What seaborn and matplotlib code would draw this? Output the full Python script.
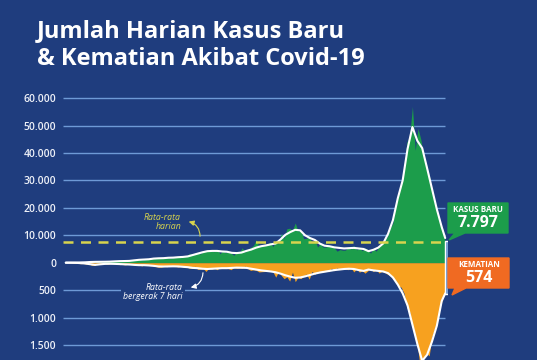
import numpy as np
import pandas as pd
import matplotlib
matplotlib.use("Agg")
import matplotlib.pyplot as plt
import seaborn as sns
from matplotlib.patches import Polygon

# ---------------- data ----------------
daily_dates = list(pd.date_range("2020-03-02", periods=137, freq="4D")) + [pd.Timestamp("2021-08-31")]
daily_cases = [
    2, 2, 8, 27, 55, 64, 103, 129, 196, 247,
    330, 297, 327, 357, 214, 433, 484, 533, 689, 489,
    973, 526, 678, 609, 993, 1241, 857, 1331, 954, 1178,
    1293, 1447, 1853, 1681, 1574, 1693, 1761, 1748, 1560, 1815,
    1893, 2098, 1821, 2197, 2447, 3308, 3075, 3444, 3861, 3141,
    4105, 4071, 4494, 4284, 3992, 4850, 3267, 4301, 3602, 4070,
    3520, 2696, 4065, 3779, 5444, 3807, 4998, 5534, 6267, 8369,
    5754, 6310, 6120, 6725, 7514, 5854, 8074, 6753, 10617, 8882,
    12400, 12568, 11788, 14500, 11500, 11749, 8776, 8869, 9687, 7300,
    8493, 5712, 6971, 5633, 5733, 6037, 5656, 5376, 4194, 4761,
    4549, 4591, 5656, 4952, 6243, 4656, 5444, 4369, 5444, 4608,
    3500, 5200, 4200, 5800, 6500, 8200, 9500, 12500, 14500, 22000,
    24500, 30000, 33000, 44000, 46000, 57000, 41000, 49000, 45000, 39000,
    36000, 32000, 27000, 21000, 19000, 15000, 12000,
    7797,
]
daily_deaths = [
    0, 0, 0, 4, 12, 10, 19, 14, 26, 19,
    47, 46, 21, 20, 9, 19, 24, 13, 15, 14,
    36, 31, 40, 28, 25, 36, 52, 41, 59, 37,
    51, 38, 58, 71, 84, 82, 65, 74, 58, 71,
    66, 79, 61, 84, 78, 100, 104, 65, 121, 118,
    106, 160, 99, 116, 101, 128, 87, 100, 97, 109,
    128, 85, 102, 96, 100, 63, 109, 141, 130, 138,
    169, 164, 161, 144, 139, 167, 264, 166, 233, 292,
    258, 336, 172, 346, 262, 290, 248, 206, 300, 159,
    213, 156, 182, 140, 144, 165, 101, 148, 95, 126,
    113, 116, 127, 98, 168, 111, 172, 146, 191, 149,
    103, 163, 121, 189, 160, 175, 210, 230, 290, 330,
    420, 450, 560, 820, 900, 1180, 1350, 1600, 2000, 1750,
    1650, 1700, 1350, 1200, 1050, 800, 620,
    574,
]

avg_dates = list(pd.date_range("2020-03-05", periods=78, freq="7D")) + [pd.Timestamp("2021-08-31")]
avg7_cases = [
    2, 5, 30, 90, 140, 250, 300, 320, 340, 380,
    480, 560, 600, 650, 850, 1050, 1150, 1250, 1500, 1600,
    1650, 1800, 1850, 2000, 2100, 2300, 2800, 3300, 3800, 4200,
    4300, 4300, 4100, 4000, 3600, 3500, 3700, 4300, 4800, 5500,
    6000, 6300, 6700, 7000, 8500, 10200, 11200, 12000, 11800, 10000,
    9000, 8300, 7000, 6200, 6000, 5600, 5400, 5200, 5300, 5400,
    5200, 5000, 4200, 4700, 5500, 7000, 10500, 15500, 23500, 30000,
    41500, 49500, 44500, 41800, 34500, 27000, 19500, 13000,
    9000,
]
avg7_deaths = [
    0, 0, 2, 8, 15, 28, 40, 30, 22, 20,
    22, 25, 30, 33, 40, 45, 45, 50, 58, 68,
    70, 68, 66, 68, 75, 82, 95, 100, 110, 115,
    110, 105, 100, 100, 95, 90, 92, 95, 110, 125,
    140, 150, 160, 175, 200, 230, 255, 275, 270, 250,
    225, 200, 180, 165, 150, 135, 125, 115, 110, 115,
    135, 150, 125, 140, 150, 160, 190, 270, 400, 560,
    780, 1130, 1480, 1790, 1680, 1440, 1150, 700,
    560,
]
avg_daily_cases = 7500
case_ticks = [60000, 50000, 40000, 30000, 20000, 10000, 0]
death_ticks = [500, 1000, 1500]
DEATH_SCALE = 20  # 500 deaths drawn at the height of 10.000 cases

title_lines = ["Jumlah Harian Kasus Baru", "& Kematian Akibat Covid-19"]
last_cases_label = "7.797"
last_deaths_label = "574"

# ---------------- style ----------------
BG = "#1f3d7e"
GREEN = "#1c9d4b"
ORANGE = "#f7a11f"
ORANGE_BOX = "#f06a22"
GRID = "#6e9ad6"
YELLOW = "#d8d44e"
STRIP = "#5b8ccb"

sns.set_style("white", {"axes.facecolor": BG, "figure.facecolor": BG})
plt.rcParams["font.family"] = ["Open Sans", "DejaVu Sans"]

W, H = 537, 360
fig = plt.figure(figsize=(W / 100, H / 100), dpi=100)
fig.patch.set_facecolor(BG)


def px(x, y):
    return (x / W, 1 - y / H)


ax = fig.add_axes([63 / W, 0, 385 / W, 270 / H])
ax.set_facecolor(BG)
for s in ax.spines.values():
    s.set_visible(False)

start = pd.Timestamp("2020-03-01")
end = pd.Timestamp("2021-09-04")
ax.set_xlim(start, end)
ax.set_ylim(-35500, 63000)

d = pd.DataFrame({"date": daily_dates, "cases": daily_cases,
                  "deaths": [-v * DEATH_SCALE for v in daily_deaths]})
a = pd.DataFrame({"date": avg_dates, "cases": avg7_cases,
                  "deaths": [-v * DEATH_SCALE for v in avg7_deaths]})

# grid lines
grid_vals = [v for v in case_ticks if v != 0] + [-v * DEATH_SCALE for v in death_ticks]
ax.hlines(grid_vals, pd.Timestamp("2020-03-01"), pd.Timestamp("2021-08-31"),
          color=GRID, lw=1.0, zorder=1)

# areas
ax.fill_between(d["date"], 0, d["cases"], color=GREEN, lw=0, zorder=2)
ax.fill_between(d["date"], 0, d["deaths"], color=ORANGE, lw=0, zorder=2)

# last day highlight
last = daily_dates[-1]
ax.bar(last, daily_cases[-1] + daily_deaths[-1] * DEATH_SCALE,
       bottom=-daily_deaths[-1] * DEATH_SCALE, width=4, align="edge",
       color=STRIP, zorder=3)

# 7-day averages
sns.lineplot(data=a, x="date", y="cases", ax=ax, color="white", lw=1.5, zorder=4)
sns.lineplot(data=a, x="date", y="deaths", ax=ax, color="white", lw=1.5, zorder=4)

# average daily line
ax.hlines(avg_daily_cases, pd.Timestamp("2020-03-01"), pd.Timestamp("2021-08-30"),
          color=YELLOW, lw=1.8, linestyles=(0, (4, 3)), zorder=5)

ax.set_xlabel("")
ax.set_ylabel("")
ax.set_xticks([])
tick_pos = case_ticks + [-v * DEATH_SCALE for v in death_ticks]
tick_lab = [f"{v:,}".replace(",", ".") for v in case_ticks] + \
           [f"{v:,}".replace(",", ".") for v in death_ticks]
ax.set_yticks(tick_pos)
ax.set_yticklabels(tick_lab, color="#eef1f8", fontsize=7.5, fontweight="semibold")
ax.tick_params(axis="y", length=0, pad=5)

# title
fig.text(*px(37, 37), title_lines[0], color="white", fontsize=17, fontweight="bold", va="baseline")
fig.text(*px(37, 65), title_lines[1], color="white", fontsize=17, fontweight="bold", va="baseline")

# annotations
fig.text(*px(181, 222), "Rata-rata\nharian", color=YELLOW, fontsize=6.3, style="italic",
         ha="right", va="center", linespacing=1.1)
ax.annotate("", xy=px(186, 221), xycoords="figure fraction",
            xytext=px(200, 239), textcoords="figure fraction",
            arrowprops=dict(arrowstyle="-|>,head_length=0.3,head_width=0.15", color=YELLOW,
                            lw=0.8, connectionstyle="arc3,rad=0.45"), zorder=6)

fig.text(*px(183, 292), "Rata-rata\nbergerak 7 hari", color="white", fontsize=6.3, style="italic",
         ha="right", va="center", linespacing=1.1,
         bbox=dict(boxstyle="square,pad=0.25", fc=BG, ec="none"))
ax.annotate("", xy=px(188, 288), xycoords="figure fraction",
            xytext=px(203, 270), textcoords="figure fraction",
            arrowprops=dict(arrowstyle="-|>,head_length=0.3,head_width=0.15", color="white",
                            lw=0.8, connectionstyle="arc3,rad=-0.45"), zorder=6)

# callout boxes
green_box = Polygon([px(448, 203), px(508, 203), px(508, 233), px(465, 233),
                     px(449, 240), px(455, 233), px(448, 233)],
                    closed=True, transform=fig.transFigure, color=GREEN, zorder=10)
fig.patches.append(green_box)
fig.text(*px(478, 209.5), "KASUS BARU", color="white", fontsize=5.8, fontweight="bold",
         ha="center", va="center", zorder=11)
fig.text(*px(478, 223), last_cases_label, color="white", fontsize=11.5, fontweight="bold",
         ha="center", va="center", zorder=11)

orange_box = Polygon([px(448, 258), px(509, 258), px(509, 288), px(466, 288),
                      px(452, 295), px(455, 288), px(448, 288)],
                     closed=True, transform=fig.transFigure, color=ORANGE_BOX, zorder=10)
fig.patches.append(orange_box)
fig.text(*px(479, 264.5), "KEMATIAN", color="white", fontsize=5.8, fontweight="bold",
         ha="center", va="center", zorder=11)
fig.text(*px(479, 278), last_deaths_label, color="white", fontsize=11.5, fontweight="bold",
         ha="center", va="center", zorder=11)

fig.savefig("out.png", dpi=100, facecolor=BG)
